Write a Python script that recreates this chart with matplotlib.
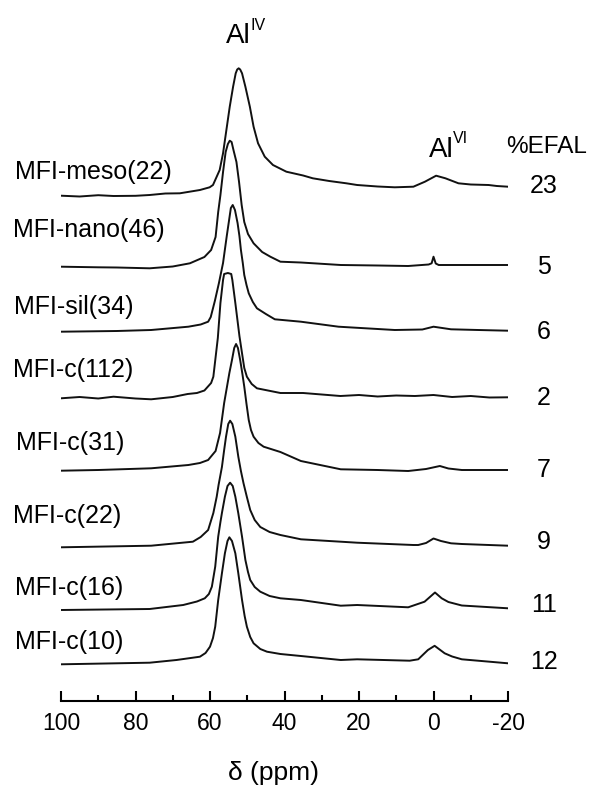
import matplotlib
matplotlib.use("Agg")
import matplotlib.pyplot as plt
from matplotlib.ticker import MultipleLocator

plt.rcParams['font.family'] = ['Liberation Sans', 'DejaVu Sans']

# 27Al MAS NMR spectra (ppm, intensity above own baseline)
samples = ["MFI-meso(22)", "MFI-nano(46)", "MFI-sil(34)", "MFI-c(112)",
           "MFI-c(31)", "MFI-c(22)", "MFI-c(16)", "MFI-c(10)"]
efal = ["23", "5", "6", "2", "7", "9", "11", "12"]
offsets = [505, 434, 370, 303, 230, 154, 91, 37]

ppm_meso = [100, 95, 90, 85.9, 80, 76.2, 72, 68.1, 62.7, 60.1, 59.2, 57.4, 56.5, 55.6, 54.7,
            53.8, 53.1, 52.7, 52.3, 51.9, 51.4, 50.5, 49.3, 48.3, 47.1, 45.3, 43.1, 39.5,
            35, 32.4, 28, 23.4, 20.5, 15, 10.4, 5.4, 2.3, -0.7, -3.2, -6.7, -10, -14.8,
            -17, -20]
int_meso = [0.3, -0.5, 0.8, 0, 0.2, 1, 2.5, 2.7, 6, 8.7, 11, 26, 42.7, 66, 89.3,
            109.3, 122.7, 126.5, 127.7, 126.5, 122.7, 109.3, 89.3, 69.3, 52.7, 39.3, 31, 24.3,
            20.5, 17.7, 15, 12.7, 11, 9.5, 8.7, 9.3, 14.3, 20.3, 17.7, 12.7, 11.5, 11,
            10, 9.3]

ppm_nano = [100, 90, 85, 76.2, 70, 65.4, 61.5, 59.7, 58.5, 57.8, 57.2, 56.5, 55.8, 55.2,
            54.7, 54.2, 53.7, 52.9, 52.2, 51.5, 50.8, 49.8, 48.3, 46, 43.8, 41.1, 35.6,
            24.9, 15, 6.8, 1.3, 0.5, 0, -0.6, -1.4, -7.6, -14.8, -20]
int_nano = [0.3, -0.3, -0.5, -1.3, 0.5, 3.7, 10, 17, 30, 55, 72, 95, 115, 123,
            126.3, 125, 117, 105, 85, 62, 45, 33, 23.7, 15, 10.3, 5.3, 4.5,
            2, 1.5, 1, 2.5, 3.7, 10.3, 3.5, 2, 2, 2, 2]

ppm_sil = [100, 85, 75.8, 65.8, 62.5, 60.5, 59.8, 58.7, 57.6, 56.5, 55.5, 54.4, 53.9, 53.3,
           52.6, 52.1, 51.7, 51.2, 50.8, 50.2, 49.6, 48.5, 47.4, 45, 42.6, 35.6, 25.5,
           10.4, 3, 0, -4.7, -12, -20]
int_sil = [-0.7, 0, 1, 4.3, 6.5, 9.3, 14, 30, 48, 68, 95, 123, 126, 121,
           108, 95, 81, 68, 56, 46, 37.7, 29, 22.7, 17, 11.7, 9.3, 4.3,
           1, 1.5, 4.3, 1.7, 1, 0.3]

ppm_c112 = [100, 95, 90, 85.9, 80, 75.8, 70, 66, 63.5, 61.5, 59.7, 59.1, 57.9, 57.2, 56.5,
            56.2, 55.2, 54.3, 54.0, 53.2, 52.1, 51.4, 50.8, 50.1, 48.8, 47.4, 41.1, 35,
            30, 25, 20, 15, 10, 5, 0, -5, -10, -15, -20]
int_c112 = [-0.3, 1, -0.5, 1.3, -0.5, -1.3, 1, 4, 5, 7.5, 15, 21.3, 60, 95, 118,
            124, 125, 124, 118, 95, 62, 44.7, 30, 21.3, 14, 9.7, 5, 5,
            3.5, 2, 3, 1.5, 2.5, 2, 3, 1, 2, 0.5, 0.7]

ppm_c31 = [100, 90, 75.8, 65.8, 62.7, 60.5, 58.5, 57.3, 56.2, 54.8, 54.1, 53.5, 53.0, 52.5,
           51.9, 51.3, 50.8, 50.2, 49.6, 49, 48.3, 47, 45.6, 41.1, 35.6, 24.9, 15, 6.8,
           2, -1.7, -4, -7.6, -20]
int_c31 = [0.3, 1, 2.7, 6, 8, 11, 20, 38, 68, 98, 111, 123, 127, 123,
           111, 97, 84.3, 67, 51, 41, 34.3, 28, 24.3, 19, 10, 1.7, 1, 0,
           2, 5, 2.5, 1, 1]

ppm_c22 = [100, 75.8, 64.6, 62.5, 60.5, 59.1, 58.2, 57.7, 56.8, 56.2, 55.7, 55.1, 54.6,
           54.0, 53.2, 52.4, 51.7, 51.0, 50.1, 49.2, 48, 46.5, 44, 41.1, 35.6, 24.9, 20.5,
           5.4, 4.1, 2, 0, -2, -4.7, -7.6, -20]
int_c22 = [-0.3, 1.3, 5.3, 10, 17, 34, 50.3, 62, 80, 97, 110.3, 123, 126.3,
           123, 110.3, 90.3, 76, 63.7, 50, 37, 27, 20, 15, 12, 7.7, 5.3, 4.3,
           2, 2, 4, 8.5, 6, 3.7, 3, 1.3]

ppm_c16 = [100, 76.2, 67.2, 63.5, 61.4, 60.3, 59.5, 58.6, 57.8, 57.2, 56.8, 56, 55.3, 54.6,
           53.9, 53.2, 52.4, 51.9, 51.4, 50.5, 49.8, 49.2, 48, 46.5, 44, 41.1, 35.6, 24.9,
           20.5, 6.8, 2.4, -0.4, -2.2, -4, -7.6, -20]
int_c16 = [0, 1, 5, 8.5, 11.7, 16, 23.3, 43.3, 73.3, 88, 97, 113.3, 124, 127.3,
           124, 113.3, 96.7, 85, 73.3, 50, 38, 30, 23, 18.3, 14, 11.7, 10, 4.3,
           5, 2.7, 8.3, 17.5, 11.7, 8, 4.5, 1.7]

ppm_c10 = [100, 76.2, 69, 62.7, 61.2, 60, 59.2, 58.6, 57.8, 56.8, 56, 55.3, 54.8, 54.1,
           53.2, 52.4, 51.4, 50.7, 50.1, 49.2, 48.3, 46.5, 44.7, 41.1, 35.6, 24.9, 20.5,
           6.4, 4.1, 2.9, 1.5, -0.3, -3, -5, -7.6, -20]
int_c10 = [-0.3, 1.3, 4, 7.3, 11, 17.3, 26, 37.3, 64, 90.7, 110.7, 123, 126.7, 123,
           110.7, 90.7, 64, 48, 37.3, 27, 20.7, 15, 12.3, 10, 8, 4, 4.7,
           3.3, 4.7, 9, 14, 18.2, 10.7, 7.5, 4.7, 0.7]

ppm_list = [ppm_meso, ppm_nano, ppm_sil, ppm_c112, ppm_c31, ppm_c22, ppm_c16, ppm_c10]
int_list = [int_meso, int_nano, int_sil, int_c112, int_c31, int_c22, int_c16, int_c10]

W, H = 590, 786
fig = plt.figure(figsize=(W / 100, H / 100), dpi=100)
ax = fig.add_axes([61 / W, 1 - 701 / H, (508 - 61) / W, (701 - 40) / H])

for ppm, inten, off in zip(ppm_list, int_list, offsets):
    ax.plot(ppm, [v + off for v in inten], color='#111111', lw=1.4)

ax.set_xlim(100, -20)
ax.set_ylim(0, 661)
for s in ['left', 'right', 'top']:
    ax.spines[s].set_visible(False)
ax.spines['bottom'].set_linewidth(1.5)
ax.set_yticks([])
ax.xaxis.set_major_locator(MultipleLocator(20))
ax.xaxis.set_minor_locator(MultipleLocator(10))
ax.tick_params(axis='x', which='major', direction='in', length=7, width=1.5,
               labelsize=16.5, pad=8)
ax.tick_params(axis='x', which='minor', direction='in', length=4, width=1.5)
ax.set_xticks([100, 80, 60, 40, 20, 0, -20])
ax.set_xticklabels(["100", "80", "60", "40", "20", "0", "-20"])

# text, placed in pixel positions of the reference
def ftext(x, y, s, **kw):
    fig.text(x / W, 1 - y / H, s, **kw)

label_y = [172, 230, 307, 370, 443, 516, 588, 642]
label_x = [15, 13, 14, 13, 16, 13, 15, 15]
efal_y = [186, 267, 332, 398, 470, 542, 605, 662]
for name, lx, ly in zip(samples, label_x, label_y):
    ftext(lx, ly, name, fontsize=18, ha='left', va='center')
for val, ey in zip(efal, efal_y):
    ftext(544, ey, val, fontsize=18, ha='center', va='center')
ftext(547, 147, "%EFAL", fontsize=17.5, ha='center', va='center')

ftext(226, 43, "Al", fontsize=20, ha='left', va='baseline')
ftext(251, 30, "IV", fontsize=11.5, ha='left', va='baseline')
ftext(429, 157, "Al", fontsize=20, ha='left', va='baseline')
ftext(453, 143, "VI", fontsize=11.5, ha='left', va='baseline')

ftext(274, 773, "δ (ppm)", fontsize=19, ha='center', va='center')

fig.savefig("out.png", dpi=100)
